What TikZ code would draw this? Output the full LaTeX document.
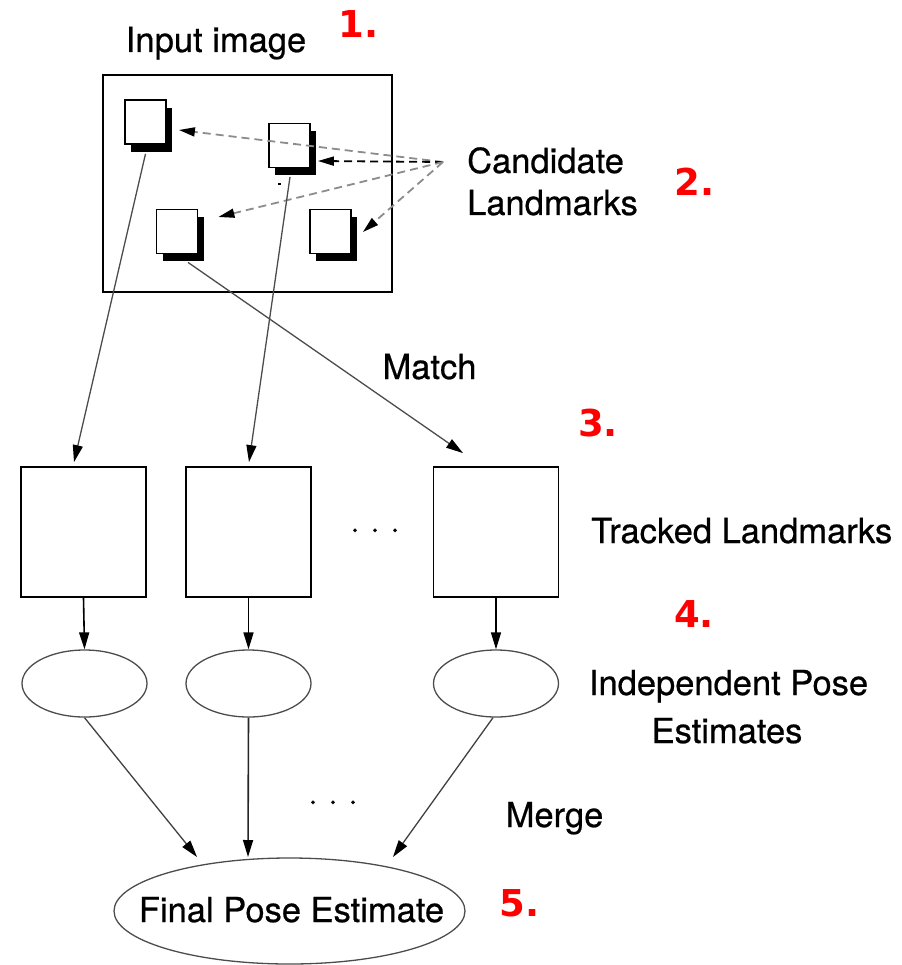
\documentclass[tikz,border=0pt]{standalone}
\usepackage{fontspec}
\setmainfont{TeX Gyre Heros}[FakeBold=0.6]
\newfontfamily\numfont{DejaVu Sans}
\usetikzlibrary{arrows.meta,shapes.geometric,shadows,calc}
\begin{document}
\begin{tikzpicture}[x=1pt,y=-1pt,
  lbl/.style={font=\fontsize{34.5}{42}\selectfont, inner sep=0, anchor=base},
  lblw/.style={lbl, anchor=base west},
  num/.style={font=\numfont\bfseries\fontsize{37}{40}\selectfont, text=red, inner sep=0, anchor=base},
  sq/.style={draw, fill=white, line width=1.8, minimum width=41, minimum height=44, inner sep=0,
    drop shadow={shadow xshift=6pt, shadow yshift=-8pt, fill=black, opacity=1}},
  tbox/.style={draw, line width=1.8, minimum width=125, minimum height=130, inner sep=0},
  ell/.style={ellipse, draw=black!70, line width=1.3, minimum width=125, minimum height=67, inner sep=0},
  arr/.style={-{Triangle[length=17pt,width=10pt,black]}},
  dsh/.style={-{Triangle[length=16pt,width=9pt,black]}, dash pattern=on 8pt off 5pt, line width=1.8},
]
\useasboundingbox (0,0) rectangle (901,965);

% input image frame and candidate squares
\node[draw, line width=1.8, minimum width=289, minimum height=217, inner sep=0] (img) at (247.5,183.5) {};
\node[sq] (A) at (145.5,122) {};
\node[sq] (B) at (289.5,145.5) {};
\node[sq] (C) at (177,231.5) {};
\node[sq] (D) at (330.5,231.5) {};
\fill (278,183) rectangle (280.5,185.5);

% texts
\node[lbl] (inp) at (216,52) {Input image};
\node[lblw] (cand1) at (467,173) {Candidate};
\node[lblw] (cand2) at (467,215) {Landmarks};
\node[lbl] (match) at (429.5,379) {Match};
\node[lblw] (track) at (591,543) {Tracked Landmarks};
\node[lbl] (ind1) at (728.5,695) {Independent Pose};
\node[lbl] (ind2) at (727,743) {Estimates};
\node[lbl] (merge) at (554.5,827) {Merge};

% numbers
\node[num] (n1) at (358.5,38) {1.};
\node[num] (n2) at (694.5,196) {2.};
\node[num] (n3) at (598,436) {3.};
\node[num] (n4) at (694,627) {4.};
\node[num] (n5) at (519.5,916) {5.};

% tracked boxes
\node[tbox] (t1) at (83.5,532) {};
\node[tbox] (t2) at (248.5,532) {};
\node[tbox] (t3) at (496,532) {};
\node[lbl] (dots1) at (375,539) {·\hspace{10.4pt}·\hspace{10.4pt}·};

% pose ellipses
\node[ell] (e1) at (84.5,683.5) {};
\node[ell] (e2) at (248.5,683.5) {};
\node[ell] (e3) at (496,683.5) {};
\node[lbl] (dots2) at (333,811) {·\hspace{10.4pt}·\hspace{10.4pt}·};

% final estimate
\node[ellipse, draw=black!70, line width=1.3, minimum width=351, minimum height=106, inner sep=0] (f) at (289.5,911) {};
\node[lbl] (ft) at (291.5,922) {Final Pose Estimate};

% dashed candidate arrows
\coordinate (src) at (443,162);
\draw[dsh, draw=black!45] (src) -- ($(A.east)+(12,8)$);
\draw[dsh, draw=black] (src) -- ($(B.east)+(7,15.5)$);
\draw[dsh, draw=black!45] (src) -- ($(C.east)+(20,-14.5)$);
\draw[dsh, draw=black!45] (src) -- ($(D.east)+(11,0.5)$);

% match lines
\draw[arr, draw=black!70, line width=1.3] ($(A.south)+(0,9)$) -- ($(t1.north)+(-9.5,-4)$);
\draw[arr, draw=black!70, line width=1.3] ($(B.south)+(0.5,8.5)$) -- ($(t2.north)+(0.5,-4)$);
\draw[arr, draw=black!70, line width=1.3] ($(C.south)+(11,8)$) -- ($(t3.north)+(-33,-13)$);

% boxes to ellipses
\draw[arr, line width=1.6] (t1.south) -- (e1.north);
\draw[arr, line width=1.6] (t2.south) -- (e2.north);
\draw[arr, line width=1.6] (t3.south) -- (e3.north);

% merge
\draw[arr, draw=black!75, line width=1.3] (e1.south) -- ($(f.center)+(-92.5,-54)$);
\draw[arr, draw=black!85, line width=1.6] (e2.south) -- ($(f.center)+(-41.5,-54)$);
\draw[arr, draw=black!75, line width=1.3] ($(e3.south)+(-3,0)$) -- ($(f.center)+(103.5,-54)$);
\end{tikzpicture}
\end{document}
